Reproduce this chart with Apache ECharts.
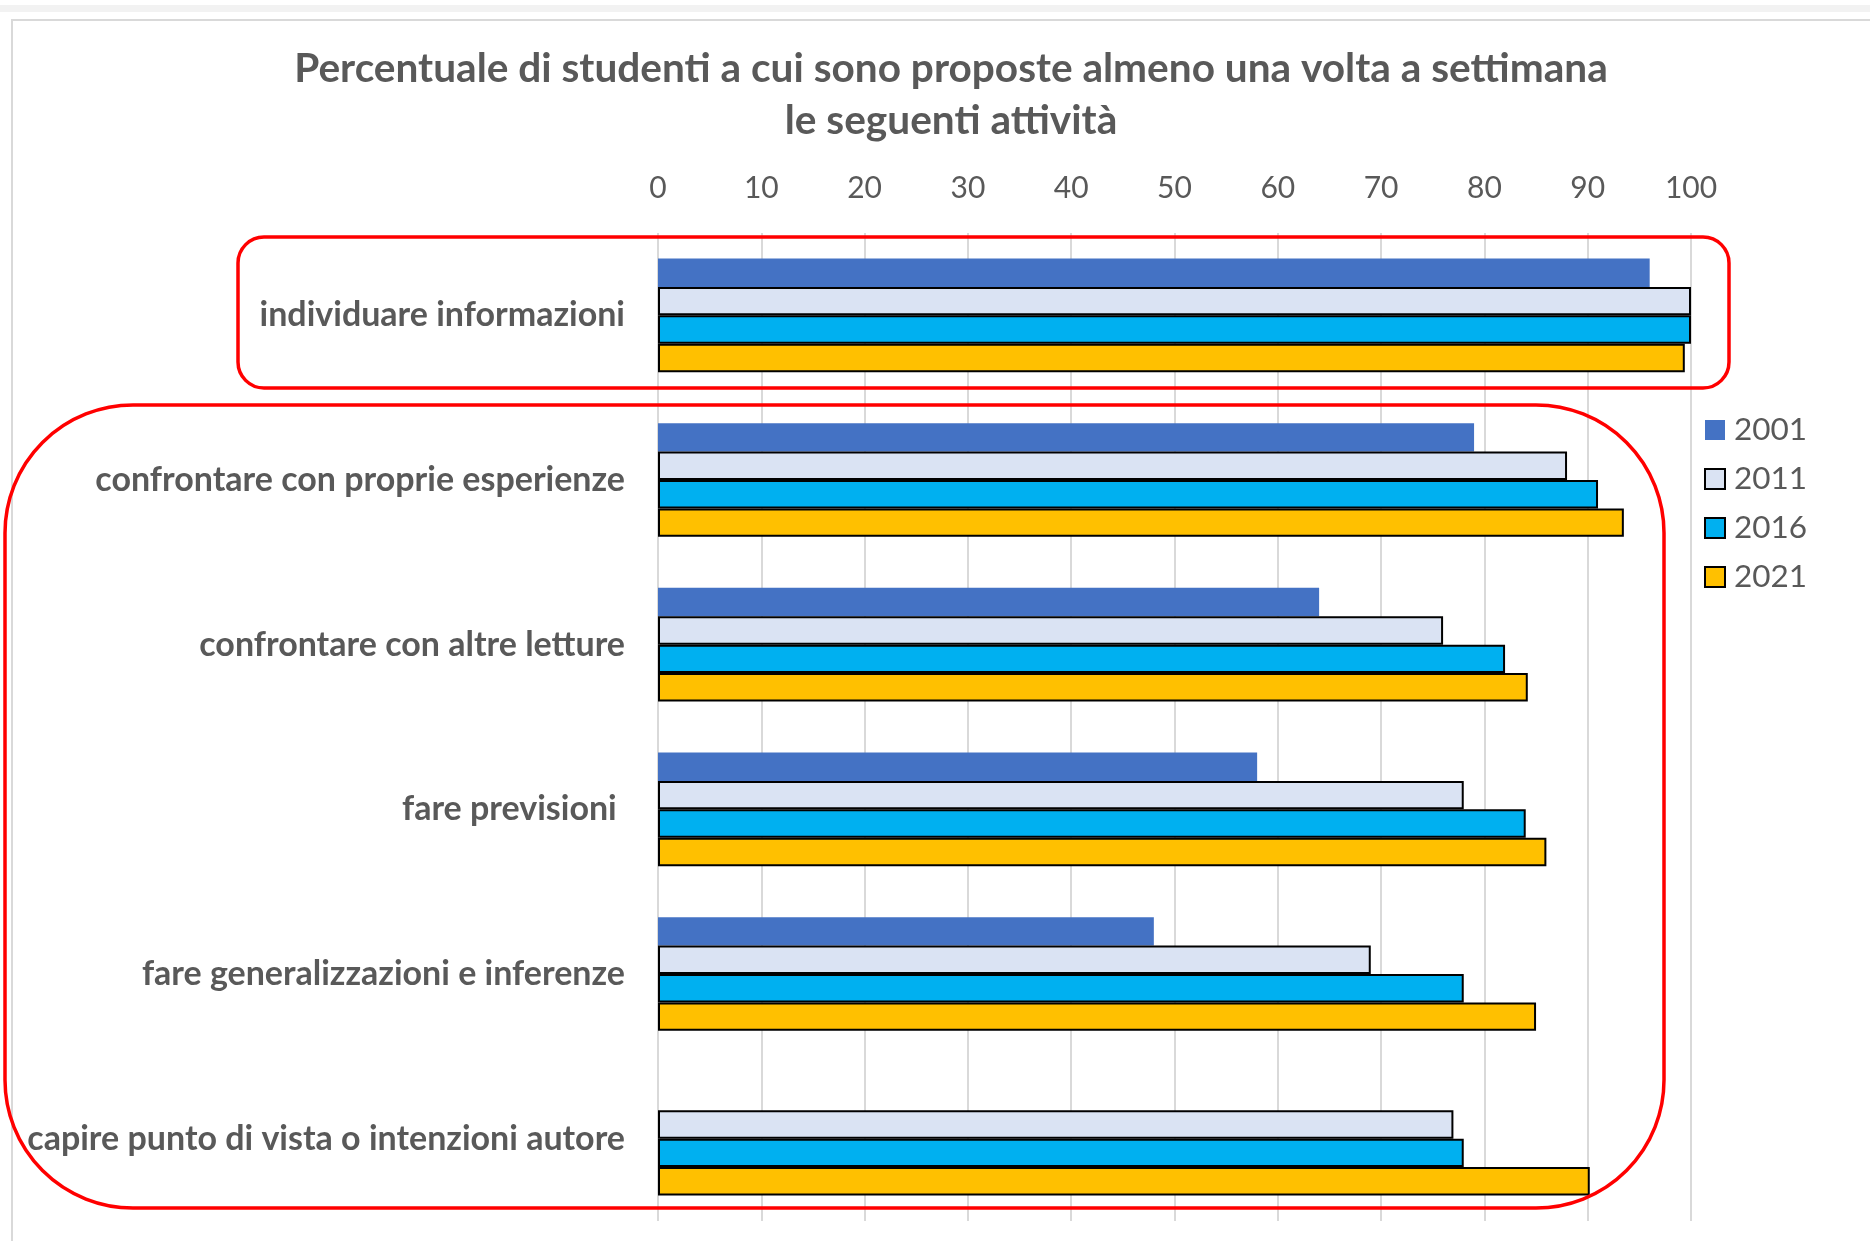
<!DOCTYPE html>
<html>
<head>
<meta charset="utf-8">
<script src="https://cdn.jsdelivr.net/npm/echarts@6/dist/echarts.min.js"></script>
<style>
html, body {
  margin: 0;
  padding: 0;
  background-color: #FFF;
}
#chart {
  width: 1870px;
  height: 1241px;
}
</style>
</head>
<body>
<div id="chart"></div>
<script>
const categories = [
  'individuare informazioni',
  'confrontare con proprie esperienze',
  'confrontare con altre letture',
  'fare previsioni ',
  'fare generalizzazioni e inferenze',
  'capire punto di vista o intenzioni autore'
]
const years = ['2001', '2011', '2016', '2021']
const values2001 = [96, 79, 64, 58, 48, null]
const values2011 = [100, 88, 76, 78, 69, 77]
const values2016 = [100, 91, 82, 84, 78, 78]
const values2021 = [99.4, 93.5, 84.2, 86, 85, 90.2]
const xTicks = [0, 10, 20, 30, 40, 50, 60, 70, 80, 90, 100]

const colors = ['#4472C4', '#DAE3F3', '#00B0F0', '#FFC000']
const textGray = '#595959'
const font = 'Lato, "Open Sans", sans-serif'

const chart = echarts.init(document.getElementById('chart'))

const seriesData = [values2001, values2011, values2016, values2021]

const option = {
  animation: false,
  textStyle: { fontFamily: font },
  title: {
    text: 'Percentuale di studenti a cui sono proposte almeno una volta a settimana\nle seguenti attività',
    left: 946,
    top: 38,
    textAlign: 'center',
    textStyle: {
      color: textGray,
      fontFamily: font,
      fontWeight: 'bold',
      fontSize: 40.6,
      lineHeight: 52
    }
  },
  legend: {
    orient: 'vertical',
    left: 1699,
    top: 409,
    itemWidth: 20,
    itemHeight: 20,
    itemGap: 17,
    icon: 'rect',
    data: years,
    textStyle: {
      color: textGray,
      fontFamily: font,
      fontSize: 31.5,
      padding: [0, 0, 0, 4]
    }
  },
  grid: {
    left: 658,
    top: 233,
    width: 1033,
    height: 988,
    containLabel: false
  },
  xAxis: {
    type: 'value',
    position: 'top',
    min: xTicks[0],
    max: xTicks[xTicks.length - 1],
    interval: 10,
    axisLine: { show: false },
    axisTick: { show: false },
    axisLabel: {
      margin: 30,
      color: textGray,
      fontFamily: font,
      fontSize: 30
    },
    splitLine: {
      lineStyle: { color: '#D9D9D9', width: 2 }
    }
  },
  yAxis: {
    type: 'category',
    inverse: true,
    data: categories,
    axisLine: { show: false },
    axisTick: { show: false },
    axisLabel: {
      margin: 33,
      color: textGray,
      fontFamily: font,
      fontWeight: 'bold',
      fontSize: 34
    }
  },
  series: years.map((year, i) => ({
    name: year,
    type: 'bar',
    data: seriesData[i],
    barGap: '0%',
    barCategoryGap: '31%',
    itemStyle: {
      color: colors[i],
      borderColor: i === 0 ? colors[i] : '#000',
      borderWidth: i === 0 ? 0 : 2
    }
  })),
  graphic: [
    // light frame of the original picture
    {
      type: 'rect',
      shape: { x: 0, y: 5, width: 1870, height: 7 },
      style: { fill: '#F2F2F2' },
      silent: true
    },
    {
      type: 'rect',
      shape: { x: 12, y: 20, width: 1900, height: 1300 },
      style: { fill: 'none', stroke: '#D9D9D9', lineWidth: 2 },
      silent: true
    },
    // red annotation boxes
    {
      type: 'rect',
      shape: { x: 238, y: 237, width: 1491, height: 151, r: 26 },
      style: { fill: 'none', stroke: '#FF0000', lineWidth: 3.5 },
      silent: true,
      z: 100
    },
    {
      type: 'rect',
      shape: { x: 5, y: 405, width: 1659, height: 803, r: 128 },
      style: { fill: 'none', stroke: '#FF0000', lineWidth: 3.5 },
      silent: true,
      z: 100
    }
  ]
}

chart.setOption(option)
</script>
</body>
</html>
